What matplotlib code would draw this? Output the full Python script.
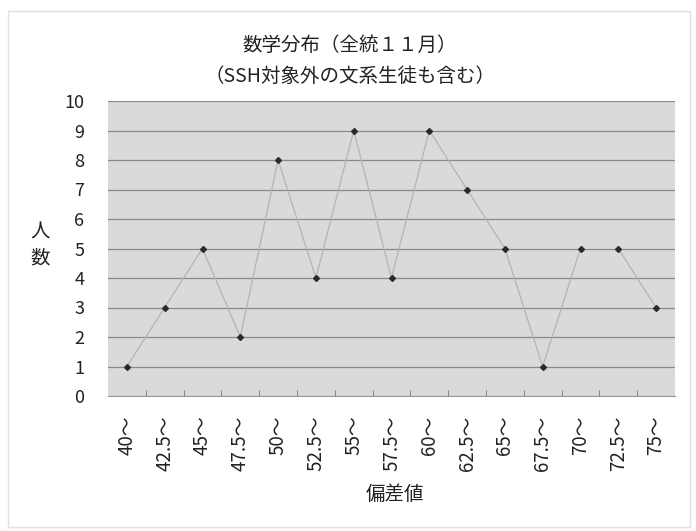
import matplotlib
matplotlib.use("Agg")
import matplotlib.pyplot as plt
from matplotlib.patches import Rectangle

plt.rcParams['font.family'] = ['Noto Sans CJK JP', 'DejaVu Sans']

# 偏差値の区間と人数
bins = ["40～", "42.5～", "45～", "47.5～", "50～", "52.5～", "55～", "57.5～",
        "60～", "62.5～", "65～", "67.5～", "70～", "72.5～", "75～"]
counts = [1, 3, 5, 2, 8, 4, 9, 4, 9, 7, 5, 1, 5, 5, 3]
# 折れ線のつながる区間 (70～ と 72.5～ の間は線なし)
segments = [(0, 13), (13, 15)]

fig = plt.figure(figsize=(6.96, 5.31), dpi=100)
ax = fig.add_axes([108 / 696, 1 - 396 / 531, (675 - 108) / 696, (396 - 101) / 531])

ax.set_facecolor("#dadada")
x = list(range(len(bins)))
for a, b in segments:
    ax.plot(x[a:b], counts[a:b], color="#b4b4b4", lw=0.9, zorder=2)
ax.plot(x, counts, ls="none", marker="D", ms=3.0, color="#2a2a2a", zorder=3)

ax.set_xlim(-0.5, len(bins) - 0.5)
ax.set_ylim(0, 10)
ax.set_yticks(range(0, 11))
ax.yaxis.grid(True, color="#8a8a8a", lw=0.9)
ax.set_axisbelow(True)

ax.set_xticks(x)
ax.set_xticklabels(bins, rotation=90, fontsize=13.5, color="#222222")
ax.set_xticks([i + 0.5 for i in x[:-1]], minor=True)
ax.tick_params(axis="x", which="major", length=0, pad=14)
ax.tick_params(axis="x", which="minor", length=4, direction="in", color="#777777")
ax.tick_params(axis="y", length=0, labelsize=13, pad=17, colors="#222222")

for s in ["top", "right", "left"]:
    ax.spines[s].set_visible(False)
ax.spines["bottom"].set_color("#999999")

fig.text(350 / 696, 1 - 45 / 531, "数学分布（全統１１月）", ha="center", va="center",
         fontsize=14, color="#222222")
fig.text(350 / 696, 1 - 76 / 531, "（SSH対象外の文系生徒も含む）", ha="center", va="center",
         fontsize=14, color="#222222")
fig.text(40 / 696, 1 - 245 / 531, "人\n数", ha="center", va="center",
         fontsize=14, color="#222222", linespacing=1.3)
fig.text(395 / 696, 1 - 495 / 531, "偏差値", ha="center", va="center",
         fontsize=14, color="#222222")

# 外枠
fig.patches.append(Rectangle((8 / 696, 4 / 531), 682 / 696, 516 / 531,
                             transform=fig.transFigure, fill=False,
                             edgecolor="#e0e0e0", lw=1.0))

fig.savefig("out.png", dpi=100, facecolor="white")
